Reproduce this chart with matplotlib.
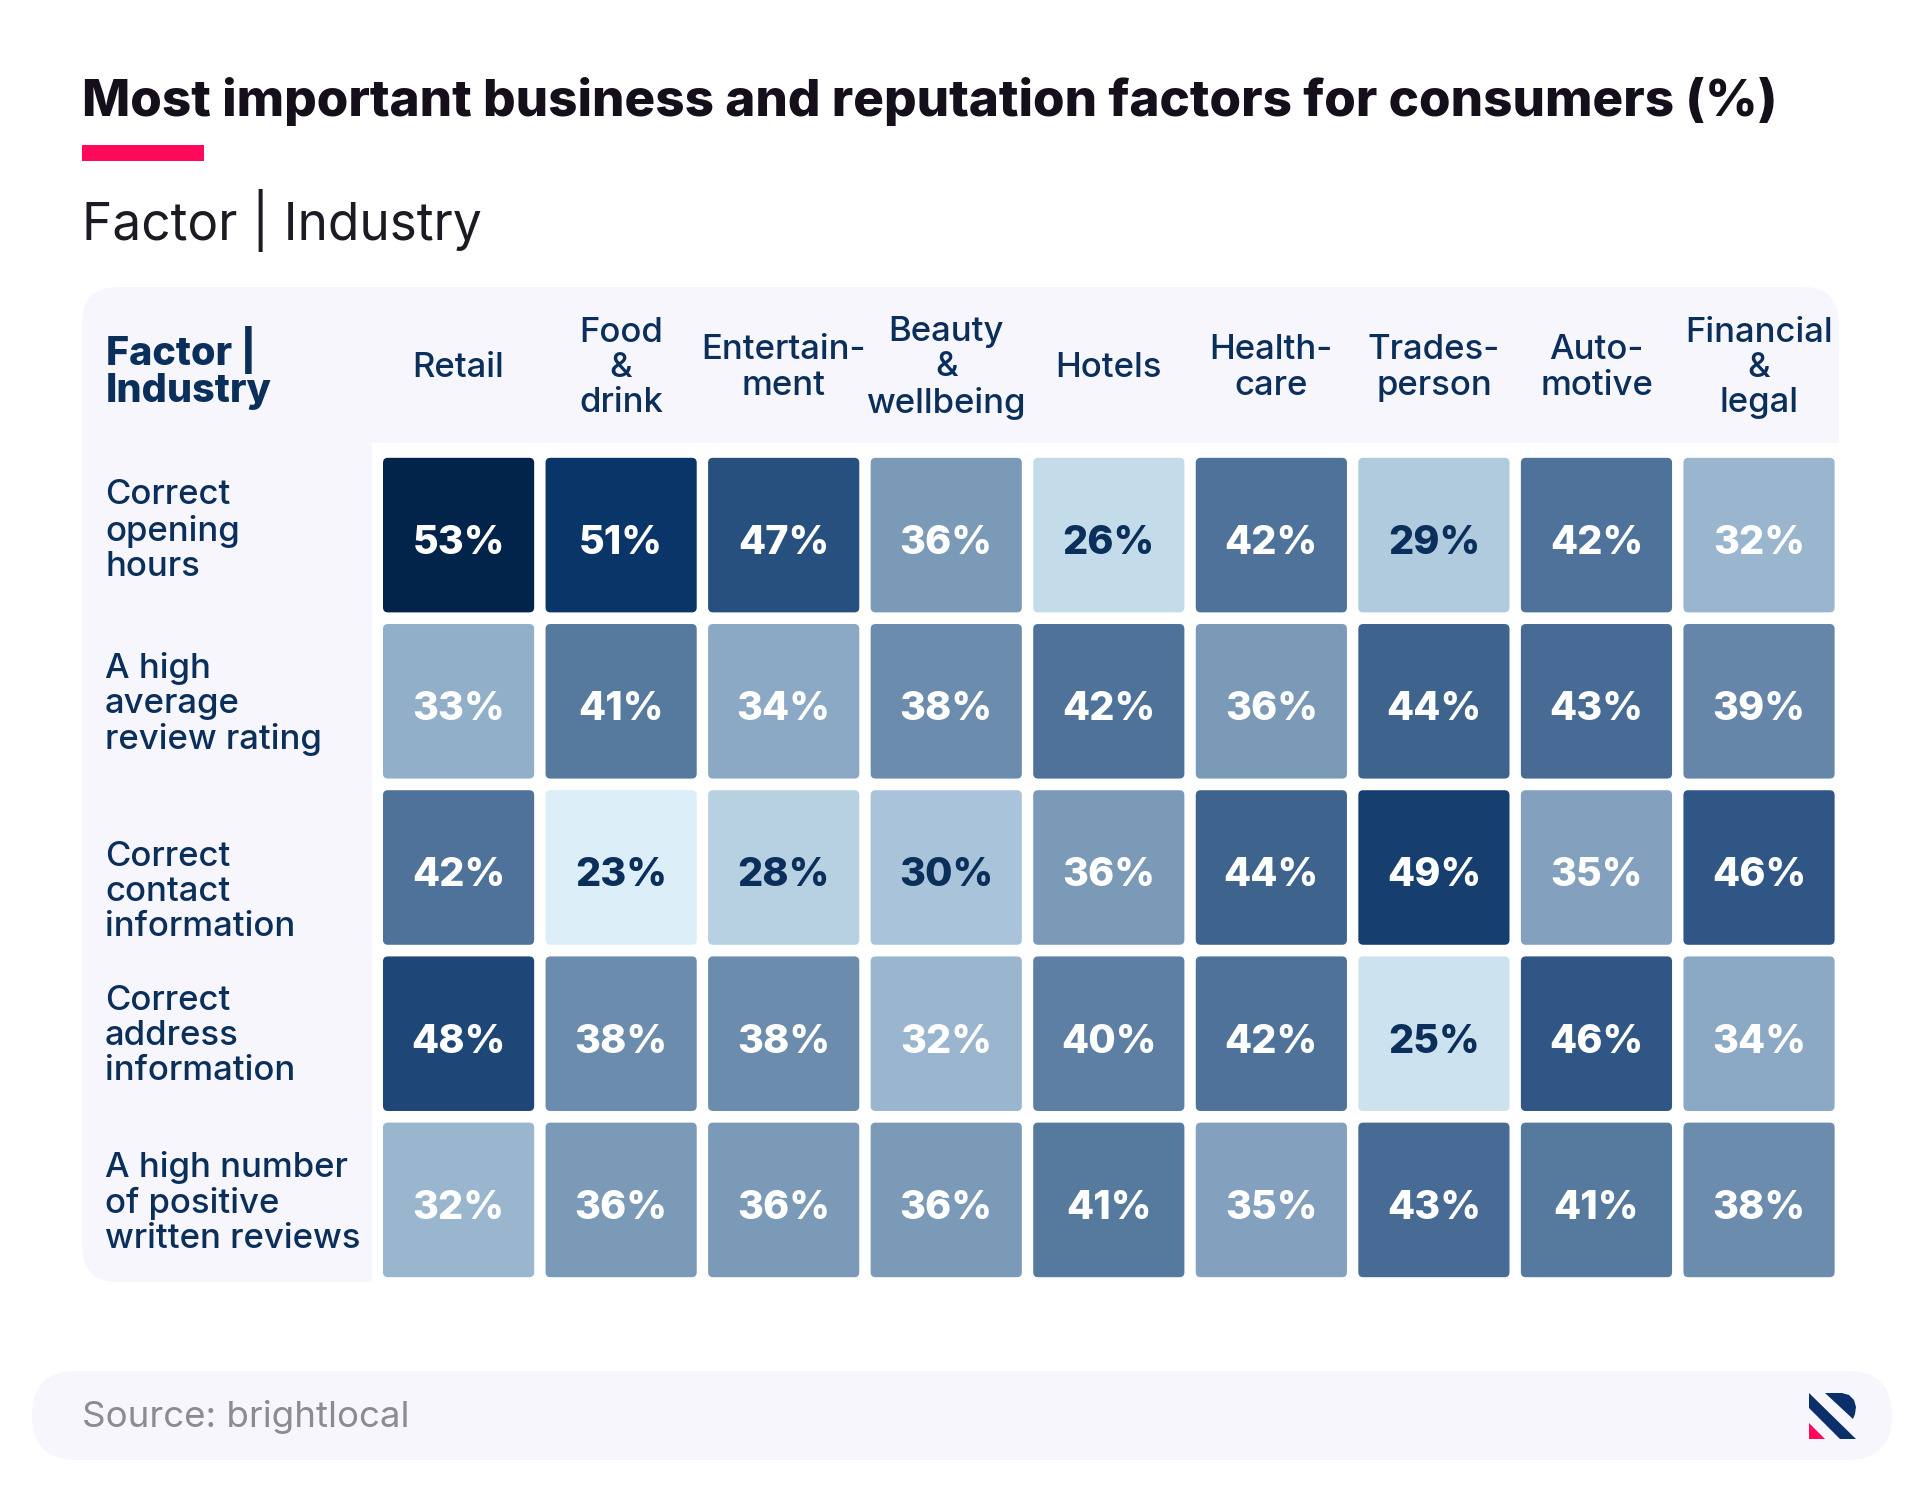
import numpy as np
import matplotlib
matplotlib.use("Agg")
from matplotlib import pyplot as plt
from matplotlib.colors import LinearSegmentedColormap
from matplotlib.patches import FancyBboxPatch, Rectangle, Polygon

industries = ["Retail", "Food\n&\ndrink", "Entertain-\nment", "Beauty\n&\nwellbeing", "Hotels",
              "Health-\ncare", "Trades-\nperson", "Auto-\nmotive", "Financial\n&\nlegal"]
factors = ["Correct\nopening\nhours", "A high\naverage\nreview rating", "Correct\ncontact\ninformation",
           "Correct\naddress\ninformation", "A high number\nof positive\nwritten reviews"]
opening_hours = [53, 51, 47, 36, 26, 42, 29, 42, 32]
review_rating = [33, 41, 34, 38, 42, 36, 44, 43, 39]
contact_info = [42, 23, 28, 30, 36, 44, 49, 35, 46]
address_info = [48, 38, 38, 32, 40, 42, 25, 46, 34]
written_reviews = [32, 36, 36, 36, 41, 35, 43, 41, 38]
values = np.array([opening_hours, review_rating, contact_info, address_info, written_reviews])

NAVY = "#0b2f5b"
W, H = 1920, 1500
plt.rcParams['font.family'] = ['Inter', 'DejaVu Sans']

cmap = LinearSegmentedColormap.from_list("heat", [
    (0.0, "#dceef8"), (0.1, "#c4dcea"), (0.233, "#a9c4da"), (0.433, "#7b9ab8"),
    (0.633, "#4f7299"), (0.8, "#27507f"), (0.867, "#163f70"), (0.933, "#0a3568"), (1.0, "#02234a")])
norm = plt.Normalize(23, 53)

fig = plt.figure(figsize=(W / 100, H / 100), dpi=100, facecolor="white")

# background layer in pixel coordinates
bg = fig.add_axes([0, 0, 1, 1])
bg.set_xlim(0, W)
bg.set_ylim(H, 0)
bg.axis("off")

bg.text(82, 102, "Most important business and reputation factors for consumers (%)",
        fontsize=36.85, fontweight=800, color="#140f1a", va="center")
bg.add_patch(Rectangle((82, 145), 122, 16, color="#ff0a5a", lw=0))
bg.text(82, 221, "Factor | Industry", fontsize=37, color="#1c1a22", va="center")

# panel behind table
bg.add_patch(FancyBboxPatch((82 + 36, 287 + 36), 1757 - 72, 995 - 72, boxstyle="round,pad=36",
                            fc="#f6f6fc", ec="none"))
bg.add_patch(Rectangle((372, 443), 1480, 860, color="white", lw=0))

bg.text(106, 368, "Factor |\nIndustry", fontsize=28.5, fontweight=800, color=NAVY,
        va="center", linespacing=1.0)

for label, y in zip(factors, [531, 704, 892, 1036, 1203]):
    bg.text(105, y, label, fontsize=25, fontweight="medium", color=NAVY, va="center",
            linespacing=1.125)

# footer
bg.add_patch(FancyBboxPatch((32 + 44, 1371 + 44), 1860 - 88, 89 - 88, boxstyle="round,pad=44",
                            fc="#f6f6fc", ec="none"))
bg.text(82, 1417, "Source: brightlocal", fontsize=26.4, color="#8c8c90", va="center")

# logo
bg.add_patch(Polygon([(1809, 1393), (1856, 1439), (1840, 1439), (1809, 1408)], color="#0b2f6b", lw=0))
bg.add_patch(Polygon([(1825, 1393), (1842, 1393), (1849, 1395), (1854, 1400), (1856, 1407),
                      (1855, 1414), (1853, 1419)], color="#0b2f6b", lw=0))
bg.add_patch(Polygon([(1809, 1423), (1825, 1439), (1809, 1439)], color="#ff0a5a", lw=0))

# heat grid, one data unit per cell
ax = fig.add_axes([377.3 / W, 1 - 1283 / H, 1463 / W, 831 / H])
ax.patch.set_alpha(0)
ax.set_xlim(0, 9)
ax.set_ylim(5, 0)
ax.axis("off")

for r in range(values.shape[0]):
    for c in range(values.shape[1]):
        v = values[r, c]
        ax.add_patch(FancyBboxPatch((c + 0.065, r + 0.065), 0.87, 0.87,
                                    boxstyle="round,pad=0.03", fc=cmap(norm(v)), ec="none"))
        ax.text(c + 0.5, r + 0.55, f"{v}%", ha="center", va="center", fontsize=28.5, fontweight=800,
                color=NAVY if v <= 30 else "white")

for c, label in enumerate(industries):
    x = c + 0.5
    ax.annotate(label, (x, 0), xytext=(0, 84 * 0.72), textcoords="offset points", annotation_clip=False,
                ha="center", va="center", fontsize=25, fontweight="medium", color=NAVY, linespacing=1.125)

fig.savefig("out.png", dpi=100)
